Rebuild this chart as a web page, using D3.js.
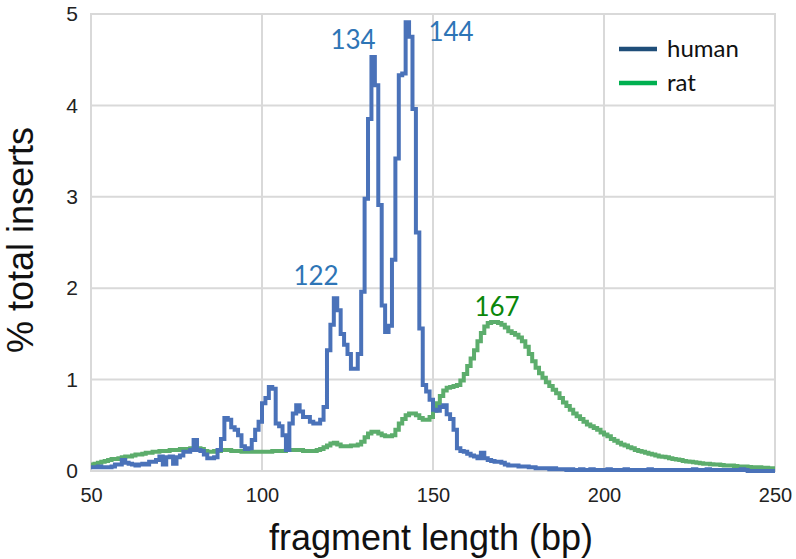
<!DOCTYPE html>
<html><head><meta charset="utf-8">
<script src="https://cdn.jsdelivr.net/npm/d3@7"></script>
<style>html,body{margin:0;padding:0;background:#fff;}svg{display:block;}</style>
</head><body>
<svg id="chart" width="796" height="559"></svg>
<script>
const fragmentLength = d3.range(50, 251);
const xTicks = [50, 100, 150, 200, 250];
const yTicks = [0, 1, 2, 3, 4, 5];
const seriesNames = ["human", "rat"];
const peakLabels = [
  {text: "122", series: "human", x: 316, y: 285},
  {text: "134", series: "human", x: 353, y: 49},
  {text: "144", series: "human", x: 451, y: 41},
  {text: "167", series: "rat", x: 497, y: 316}
];
const human = [
0.04,0.04,0.05,0.04,0.04,0.04,0.05,0.07,0.07,0.12,
0.09,0.08,0.07,0.06,0.07,0.08,0.07,0.10,0.10,0.12,
0.16,0.07,0.15,0.16,0.08,0.15,0.17,0.21,0.21,0.23,
0.34,0.23,0.22,0.18,0.14,0.14,0.15,0.23,0.35,0.58,
0.56,0.48,0.45,0.39,0.27,0.24,0.25,0.34,0.45,0.54,
0.74,0.80,0.92,0.90,0.52,0.49,0.39,0.23,0.52,0.63,
0.72,0.65,0.59,0.59,0.54,0.52,0.52,0.56,0.70,1.32,
1.60,1.89,1.76,1.50,1.38,1.28,1.12,1.12,1.28,1.96,
2.98,3.85,4.53,4.22,2.91,1.81,1.52,1.59,2.31,3.42,
4.33,4.35,4.91,4.75,3.96,2.61,1.56,0.94,0.87,0.78,
0.67,0.66,0.70,0.72,0.62,0.57,0.45,0.25,0.22,0.21,
0.19,0.17,0.16,0.14,0.20,0.14,0.12,0.11,0.10,0.10,
0.09,0.07,0.06,0.06,0.06,0.05,0.05,0.05,0.04,0.04,
0.03,0.03,0.03,0.03,0.02,0.03,0.02,0.02,0.02,0.01,
0.02,0.01,0.01,0.02,0.01,0.01,0.02,0.01,0.01,0.01,
0.01,0.02,0.01,0.01,0.01,0.01,0.02,0.01,0.01,0.01,
0.01,0.01,0.01,0.02,0.01,0.01,0.01,0.01,0.01,0.01,
0.01,0.01,0.01,0.01,0.01,0.01,0.02,0.01,0.01,0.01,
0.02,0.01,0.01,0.01,0.01,0.01,0.01,0.01,0.01,0.01,
0.02,0.01,0.00,0.00,0.00,0.00,0.00,0.00,0.00,0.00,0.00
];
const rat = [
0.07,0.08,0.09,0.10,0.11,0.12,0.13,0.13,0.14,0.15,
0.16,0.16,0.17,0.18,0.18,0.19,0.20,0.20,0.21,0.21,
0.22,0.22,0.22,0.23,0.23,0.23,0.24,0.24,0.24,0.25,
0.25,0.25,0.24,0.22,0.21,0.21,0.22,0.22,0.23,0.23,
0.23,0.22,0.22,0.22,0.21,0.21,0.21,0.21,0.21,0.21,
0.21,0.21,0.21,0.22,0.22,0.22,0.22,0.23,0.23,0.23,
0.23,0.23,0.22,0.22,0.22,0.22,0.23,0.24,0.26,0.28,
0.30,0.31,0.29,0.27,0.27,0.27,0.28,0.28,0.29,0.32,
0.37,0.41,0.43,0.43,0.41,0.39,0.38,0.38,0.39,0.45,
0.52,0.57,0.61,0.63,0.63,0.61,0.58,0.56,0.56,0.59,
0.66,0.74,0.82,0.88,0.91,0.92,0.93,0.94,0.99,1.06,
1.15,1.23,1.32,1.42,1.51,1.58,1.62,1.63,1.63,1.62,
1.60,1.57,1.53,1.51,1.49,1.46,1.42,1.36,1.28,1.20,
1.13,1.07,1.02,0.97,0.93,0.89,0.85,0.80,0.75,0.71,
0.67,0.63,0.60,0.57,0.54,0.51,0.49,0.47,0.45,0.42,
0.40,0.38,0.35,0.33,0.31,0.29,0.28,0.26,0.25,0.23,
0.22,0.21,0.20,0.19,0.18,0.17,0.16,0.155,0.15,0.14,
0.13,0.125,0.12,0.11,0.105,0.10,0.095,0.09,0.085,0.08,
0.08,0.075,0.07,0.07,0.065,0.06,0.06,0.06,0.055,0.05,
0.05,0.05,0.045,0.04,0.04,0.04,0.035,0.035,0.03,0.03,0.03
];

const lineColor = {human: "#4a72b9", rat: "#5cad6c"};
const legendColor = {human: "#1f4e79", rat: "#00b050"};
const labelColor = {human: "#2e75b6", rat: "#0a870a"};

const svg = d3.select("#chart");
const x = d3.scaleLinear().domain([50, 250]).range([91, 775]);
const y = d3.scaleLinear().domain([0, 5]).range([471, 14]);
const grid = "#d9d9d9";

// gridlines
svg.append("g").selectAll("line").data(xTicks).join("line")
  .attr("x1", d => x(d)).attr("x2", d => x(d)).attr("y1", y(5)).attr("y2", y(0))
  .attr("stroke", grid).attr("stroke-width", 2);
svg.append("g").selectAll("line").data(yTicks).join("line")
  .attr("x1", x(50) - 1).attr("x2", x(250) + 1).attr("y1", d => y(d)).attr("y2", d => y(d))
  .attr("stroke", grid).attr("stroke-width", 2);

// axes
const yAxis = svg.append("g").attr("transform", `translate(${x(50)},0)`)
  .call(d3.axisLeft(y).tickValues(yTicks).tickSize(0).tickPadding(13).tickFormat(d3.format("d")));
yAxis.select(".domain").remove();
yAxis.selectAll("text").attr("font-family", "'Liberation Sans', Arial, sans-serif")
  .attr("font-size", 21).attr("fill", "#222");

const xAxis = svg.append("g").attr("transform", `translate(0,${y(0)})`)
  .call(d3.axisBottom(x).tickValues(xTicks).tickSize(0).tickPadding(17).tickFormat(d3.format("d")));
xAxis.select(".domain").remove();
xAxis.selectAll("text").attr("font-family", "'Liberation Sans', Arial, sans-serif")
  .attr("font-size", 20).attr("fill", "#222");

// titles
svg.append("text").attr("x", 431).attr("y", 550).attr("text-anchor", "middle")
  .attr("font-family", "'Liberation Sans', Arial, sans-serif").attr("font-size", 36)
  .attr("fill", "#111").text("fragment length (bp)");
svg.append("text").attr("transform", "translate(33,240) rotate(-90)").attr("text-anchor", "middle")
  .attr("font-family", "'Liberation Sans', Arial, sans-serif").attr("font-size", 36)
  .attr("fill", "#111").text("% total inserts");

// lines
const series = {human, rat};
const line = d3.line().x(d => x(d[0])).y(d => y(d[1])).curve(d3.curveStepAfter);
["rat", "human"].forEach(name => {
  const pts = fragmentLength.map((bp, i) => [bp, series[name][i]]);
  svg.append("path").datum(pts).attr("d", line)
    .attr("fill", "none").attr("stroke", lineColor[name])
    .attr("stroke-width", 4).attr("stroke-linejoin", "miter");
});

// peak labels
svg.append("g").selectAll("text").data(peakLabels).join("text")
  .attr("x", d => d.x).attr("y", d => d.y).attr("text-anchor", "middle")
  .attr("font-family", "Lato, 'Open Sans', sans-serif").attr("font-size", 26)
  .attr("fill", d => labelColor[d.series]).text(d => d.text);

// legend
const lg = svg.append("g");
seriesNames.forEach((name, i) => {
  const yy = 49 + i * 34;
  lg.append("line").attr("x1", 619).attr("x2", 657).attr("y1", yy).attr("y2", yy)
    .attr("stroke", legendColor[name]).attr("stroke-width", 4.5);
  lg.append("text").attr("x", 667).attr("y", yy + 8)
    .attr("font-family", "Lato, 'Open Sans', sans-serif").attr("font-size", 24)
    .attr("fill", "#111").text(name);
});
</script>
</body></html>
